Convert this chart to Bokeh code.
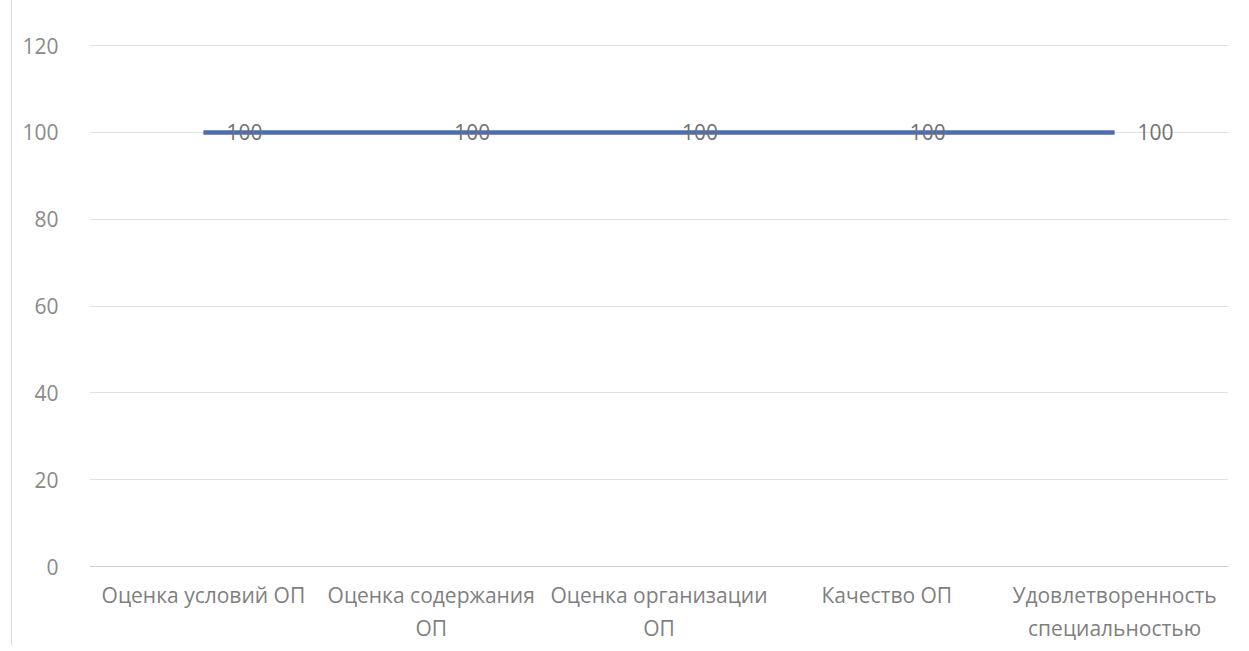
from bokeh.plotting import figure
from bokeh.models import Range1d, FixedTicker, ColumnDataSource, Div
from bokeh.layouts import row
from bokeh.core.properties import value
from bokeh.embed import file_html
from bokeh.resources import INLINE

categories = ["Оценка условий ОП", "Оценка содержания\nОП", "Оценка организации\nОП",
              "Качество ОП", "Удовлетворенность\nспециальностью"]
values = [100, 100, 100, 100, 100]
y_ticks = [0, 20, 40, 60, 80, 100, 120]

xs = list(range(len(categories)))
src = ColumnDataSource(dict(x=xs, y=values, lbl=[str(v) for v in values]))

FONT = "Open Sans"
FS = "21px"
H = 645

p = figure(width=1227, height=H, output_backend="svg", toolbar_location=None,
           x_range=Range1d(-0.5, len(categories) - 0.5), y_range=Range1d(0, 120.5),
           min_border_left=77, min_border_right=11, min_border_top=43, min_border_bottom=79)
p.outline_line_color = None
p.background_fill_color = "white"

p.line("x", "y", source=src, line_color="#4d6db2", line_width=4.5)
p.text("x", "y", text="lbl", source=src, x_offset=23, text_align="left", text_baseline="middle",
       text_font=value(FONT), text_font_size=FS, text_color="#707070")

p.xaxis.ticker = FixedTicker(ticks=xs)
p.xaxis.major_label_overrides = {i: c for i, c in enumerate(categories)}
p.xaxis.major_tick_line_color = None
p.xaxis.minor_tick_line_color = None
p.xaxis.axis_line_color = "#d0d0d0"
p.xaxis.major_label_text_font = FONT
p.xaxis.major_label_text_font_size = FS
p.xaxis.major_label_text_color = "#7f7f7f"
p.xaxis.major_label_text_line_height = 1.2
p.xaxis.major_label_standoff = 8
p.xgrid.grid_line_color = None

p.yaxis.ticker = FixedTicker(ticks=y_ticks)
p.yaxis.axis_line_color = None
p.yaxis.major_tick_line_color = None
p.yaxis.minor_tick_line_color = None
p.yaxis.major_label_text_font = FONT
p.yaxis.major_label_text_font_size = FS
p.yaxis.major_label_text_color = "#8a8a8a"
p.yaxis.major_label_standoff = 25
p.ygrid.grid_line_color = "#e2e2e2"

edge = Div(width=12, height=H, margin=0,
           styles={"border-right": "1px solid #dadada", "box-sizing": "border-box"})
layout = row(edge, p, spacing=0)

open("out.html", "w").write(file_html(layout, INLINE))
